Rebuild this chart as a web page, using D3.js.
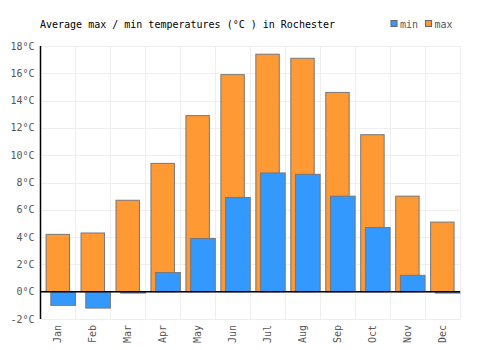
<!DOCTYPE html>
<html>
<head>
<meta charset="utf-8">
<script src="https://cdn.jsdelivr.net/npm/d3@7"></script>
<style>
  body { margin: 0; background: #fff; }
  svg text { font-family: "DejaVu Sans Mono", monospace; }
</style>
</head>
<body>
<div id="chart"></div>
<script>
// Chart data
const months = ["Jan", "Feb", "Mar", "Apr", "May", "Jun", "Jul", "Aug", "Sep", "Oct", "Nov", "Dec"];
const maxTemps = [4.2, 4.3, 6.7, 9.4, 12.9, 15.9, 17.4, 17.1, 14.6, 11.5, 7.0, 5.1];
const minTemps = [-1.0, -1.2, -0.1, 1.4, 3.9, 6.9, 8.7, 8.6, 7.0, 4.7, 1.2, -0.1];
const yTicks = [-2, 0, 2, 4, 6, 8, 10, 12, 14, 16, 18];

const width = 500;
const height = 350;
const margin = { top: 46, right: 40, bottom: 31, left: 40.5 };

const svg = d3.select("#chart").append("svg")
    .attr("width", width)
    .attr("height", height);

const x = d3.scaleBand()
    .domain(months)
    .range([margin.left, width - margin.right]);

const y = d3.scaleLinear()
    .domain([-2, 18])
    .range([height - margin.bottom, margin.top]);

// grid lines
svg.append("g")
    .selectAll("line")
    .data(yTicks)
    .enter().append("line")
    .attr("x1", margin.left)
    .attr("x2", width - margin.right)
    .attr("y1", d => Math.round(y(d)) + 0.5)
    .attr("y2", d => Math.round(y(d)) + 0.5)
    .attr("stroke", "#eeeeee")
    .attr("stroke-width", 1);

svg.append("g")
    .selectAll("line")
    .data(months)
    .enter().append("line")
    .attr("x1", d => Math.round(x(d) + x.bandwidth()) + 0.5)
    .attr("x2", d => Math.round(x(d) + x.bandwidth()) + 0.5)
    .attr("y1", y(18))
    .attr("y2", y(-2))
    .attr("stroke", "#eeeeee")
    .attr("stroke-width", 1);

const bw = x.bandwidth();

// max bars (behind)
svg.append("g")
    .selectAll("rect")
    .data(maxTemps)
    .enter().append("rect")
    .attr("x", (d, i) => x(months[i]) + bw * 0.16)
    .attr("width", bw * 0.67)
    .attr("y", d => y(Math.max(d, 0)))
    .attr("height", d => Math.abs(y(d) - y(0)))
    .attr("fill", "#ff9933")
    .attr("stroke", "#777777")
    .attr("stroke-width", 1);

// min bars (in front)
svg.append("g")
    .selectAll("rect")
    .data(minTemps)
    .enter().append("rect")
    .attr("x", (d, i) => x(months[i]) + bw * 0.295)
    .attr("width", bw * 0.705)
    .attr("y", d => y(Math.max(d, 0)))
    .attr("height", d => Math.abs(y(d) - y(0)))
    .attr("fill", "#3399ff")
    .attr("stroke", "#777777")
    .attr("stroke-width", 1);

// zero line
svg.append("line")
    .attr("x1", margin.left)
    .attr("x2", width - margin.right)
    .attr("y1", y(0))
    .attr("y2", y(0))
    .attr("stroke", "#000")
    .attr("stroke-width", 1.5);

// left axis line
svg.append("line")
    .attr("x1", margin.left)
    .attr("x2", margin.left)
    .attr("y1", y(18))
    .attr("y2", y(-2))
    .attr("stroke", "#000")
    .attr("stroke-width", 1.5);

// y tick labels
svg.append("g")
    .selectAll("text")
    .data(yTicks)
    .enter().append("text")
    .attr("x", margin.left - 6)
    .attr("y", d => y(d))
    .attr("dy", "0.35em")
    .attr("text-anchor", "end")
    .attr("fill", "#555")
    .style("font-size", "10px")
    .text(d => d + "°C");

// x tick labels (rotated)
svg.append("g")
    .selectAll("text")
    .data(months)
    .enter().append("text")
    .attr("transform", d => `translate(${x(d) + bw / 2},${y(-2) + 6}) rotate(-90)`)
    .attr("dy", "0.35em")
    .attr("text-anchor", "end")
    .attr("fill", "#555")
    .style("font-size", "10px")
    .text(d => d);

// title
svg.append("text")
    .attr("x", 40)
    .attr("y", 27.5)
    .attr("fill", "#000")
    .style("font-size", "10px")
    .text("Average max / min temperatures (°C ) in Rochester");

// legend
const legendItems = [
    { label: "min", color: "#3399ff", x: 391 },
    { label: "max", color: "#ff9933", x: 425.5 }
];
const legend = svg.append("g")
    .selectAll("g")
    .data(legendItems)
    .enter().append("g");

legend.append("rect")
    .attr("x", d => d.x)
    .attr("y", 20.5)
    .attr("width", 6)
    .attr("height", 6)
    .attr("fill", d => d.color)
    .attr("stroke", "#666")
    .attr("stroke-width", 1);

legend.append("text")
    .attr("x", d => d.x + 9)
    .attr("y", 27.5)
    .attr("fill", "#555")
    .style("font-size", "10px")
    .text(d => d.label);
</script>
</body>
</html>
